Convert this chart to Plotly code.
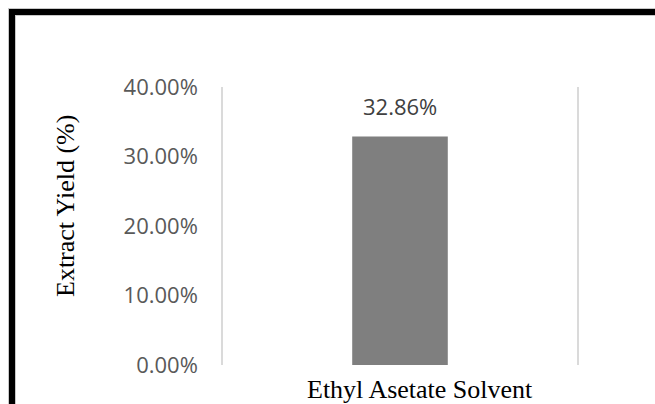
import plotly.graph_objects as go

# Data
categories = ["Ethyl Asetate Solvent"]
yields = [0.3286]  # extract yield as a fraction
y_ticks = [0.0, 0.1, 0.2, 0.3, 0.4]

W, H = 655, 404
L, R, T, B = 223, 78, 87, 39
plot_w = W - L - R
plot_h = H - T - B


def px_x(px):
    return (px - L) / plot_w


def px_y(py):
    return (H - B - py) / plot_h


fig = go.Figure()
fig.add_trace(go.Bar(
    x=categories,
    y=yields,
    width=0.27,
    marker=dict(color="#7f7f7f", line=dict(width=0)),
    hoverinfo="skip",
))

# value labels above the bars
for c, v in zip(categories, yields):
    fig.add_annotation(
        x=c, y=v, xref="x", yref="y",
        text=f"{v * 100:.2f}%",
        showarrow=False, yanchor="bottom", yshift=14,
        font=dict(family="Open Sans", size=22, color="#404040"),
    )

# category label under the axis
for c in categories:
    fig.add_annotation(
        x=c, xref="x", xshift=20,
        y=px_y(389), yref="paper", yanchor="middle",
        text=c, showarrow=False,
        font=dict(family="Liberation Serif", size=26, color="#000000"),
    )

# y-axis title
fig.add_annotation(
    x=px_x(65), y=px_y(206), xref="paper", yref="paper",
    text="Extract Yield (%)", textangle=-90, showarrow=False,
    xanchor="center", yanchor="middle",
    font=dict(family="Liberation Serif", size=26, color="#000000"),
)

# outer frame
frame = dict(type="rect", xref="paper", yref="paper",
             x0=px_x(12), x1=px_x(720), y0=px_y(470), y1=px_y(12),
             fillcolor="rgba(0,0,0,0)", layer="above")
fig.add_shape(**frame, line=dict(color="#c8c8c8", width=8))
fig.add_shape(**frame, line=dict(color="#000000", width=6))

fig.update_layout(
    width=W, height=H,
    margin=dict(l=L, r=R, t=T, b=B, pad=0),
    paper_bgcolor="#ffffff",
    plot_bgcolor="#ffffff",
    showlegend=False,
    xaxis=dict(
        range=[-0.5, 0.5],
        showticklabels=False, showgrid=False, zeroline=False,
        showline=False, ticks="", fixedrange=True,
    ),
    yaxis=dict(
        range=[0, 0.4],
        tickvals=y_ticks, tickformat=".2%",
        showgrid=False, zeroline=False,
        showline=True, mirror=True, linecolor="#dadada", linewidth=1.5,
        ticks="", ticklabelstandoff=19,
        tickfont=dict(family="Open Sans", size=22, color="#595959"),
        fixedrange=True,
    ),
)

fig.write_html("out.html")
